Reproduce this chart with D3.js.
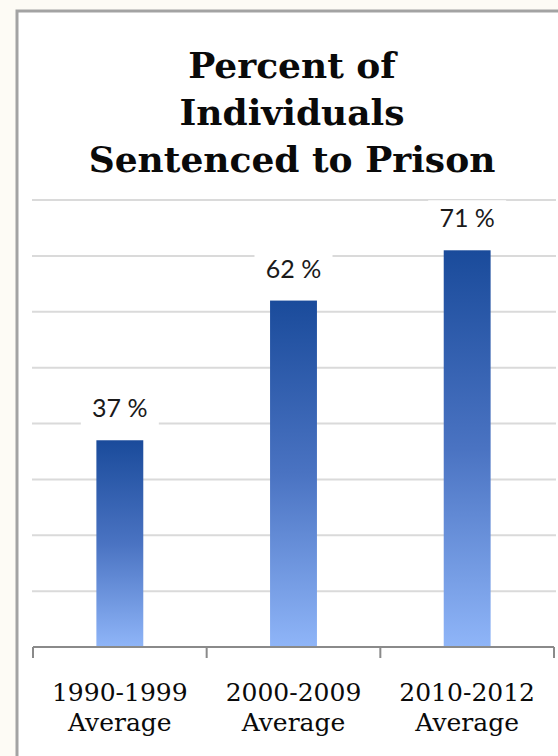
<!DOCTYPE html>
<html><head><meta charset="utf-8">
<script src="https://cdn.jsdelivr.net/npm/d3@7"></script>
<style>html,body{margin:0;padding:0;background:#fdfbf5;}svg{display:block;}</style>
</head><body>
<svg id="chart" width="558" height="756"></svg>
<script>
const titleLines = ["Percent of", "Individuals", "Sentenced to Prison"];
const categories = ["1990-1999 Average", "2000-2009 Average", "2010-2012 Average"];
const catLine1 = ["1990-1999", "2000-2009", "2010-2012"];
const catLine2 = ["Average", "Average", "Average"];
const values = [37, 62, 71];
const valueLabels = ["37 %", "62 %", "71 %"];
const gridTicks = [10, 20, 30, 40, 50, 60, 70, 80];

const svg = d3.select("#chart");
svg.append("rect").attr("width", 558).attr("height", 756).attr("fill", "#fdfbf5");
// chart box
svg.append("rect").attr("x", 17).attr("y", 11).attr("width", 600).attr("height", 800)
  .attr("fill", "#ffffff").attr("stroke", "#a3a3a3").attr("stroke-width", 3);

const defs = svg.append("defs");
const grad = defs.append("linearGradient").attr("id", "barGrad")
  .attr("x1", 0).attr("y1", 0).attr("x2", 0).attr("y2", 1);
grad.append("stop").attr("offset", "0%").attr("stop-color", "#1a4b9b");
grad.append("stop").attr("offset", "50%").attr("stop-color", "#4a73c2");
grad.append("stop").attr("offset", "100%").attr("stop-color", "#8fb5f8");

const y = d3.scaleLinear().domain([0, 80]).range([647, 200]);
const x = d3.scaleBand().domain(categories).range([33, 554]).paddingInner(0.73).paddingOuter(0.365);

// title
const title = svg.append("text").attr("text-anchor", "middle")
  .attr("font-family", "'DejaVu Serif', serif").attr("font-weight", "bold")
  .attr("font-size", 36).attr("fill", "#0a0a0a");
titleLines.forEach((t, i) => {
  title.append("tspan").attr("x", 292).attr("y", 78 + i * 47).text(t);
});

// gridlines
svg.append("g").selectAll("line").data(gridTicks).join("line")
  .attr("x1", 32).attr("x2", 556)
  .attr("y1", d => y(d)).attr("y2", d => y(d))
  .attr("stroke", "#dadada").attr("stroke-width", 2);

// bars
svg.append("g").selectAll("rect").data(values).join("rect")
  .attr("x", (d, i) => x(categories[i]))
  .attr("width", x.bandwidth())
  .attr("y", d => y(d))
  .attr("height", d => y(0) - y(d))
  .attr("fill", "url(#barGrad)");

// value labels with white background
const lbl = svg.append("g").selectAll("g").data(values).join("g")
  .attr("transform", (d, i) => `translate(${x(categories[i]) + x.bandwidth() / 2},${y(d) - 23})`);
lbl.append("rect").attr("x", -39).attr("y", -27).attr("width", 78).attr("height", 37).attr("fill", "#fff");
lbl.append("text").attr("text-anchor", "middle")
  .attr("font-family", "Lato, 'Open Sans', sans-serif").attr("font-size", 25)
  .attr("fill", "#1a1a1a").text((d, i) => valueLabels[i]);

// axis
const axisG = svg.append("g");
axisG.append("line").attr("x1", x.range()[0]).attr("x2", x.range()[1])
  .attr("y1", y(0)).attr("y2", y(0)).attr("stroke", "#8a8a8a").attr("stroke-width", 2);
const tickXs = d3.range(categories.length + 1).map(i => x.range()[0] + i * x.step());
axisG.selectAll("line.tick").data(tickXs).join("line").attr("class", "tick")
  .attr("x1", d => d).attr("x2", d => d)
  .attr("y1", y(0)).attr("y2", y(0) + 11)
  .attr("stroke", "#8a8a8a").attr("stroke-width", 2);

// category labels
const cl = svg.append("g").selectAll("text").data(categories).join("text")
  .attr("text-anchor", "middle")
  .attr("font-family", "'DejaVu Serif', serif").attr("font-size", 25).attr("fill", "#0a0a0a");
cl.append("tspan").attr("x", d => x(d) + x.bandwidth() / 2).attr("y", 701).text((d, i) => catLine1[i]);
cl.append("tspan").attr("x", d => x(d) + x.bandwidth() / 2).attr("y", 731).text((d, i) => catLine2[i]);
</script>
</body></html>
